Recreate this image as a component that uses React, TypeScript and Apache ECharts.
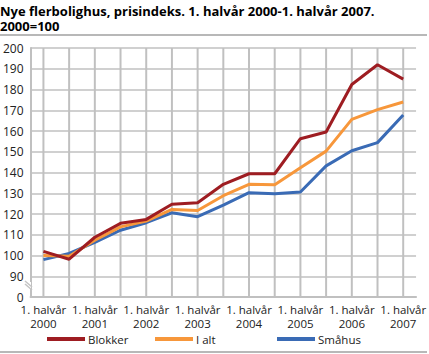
import React, { useEffect, useRef } from "react";
import * as echarts from "echarts";

const categories: string[] = [
  "1. halvår\n2000", "2. halvår\n2000",
  "1. halvår\n2001", "2. halvår\n2001",
  "1. halvår\n2002", "2. halvår\n2002",
  "1. halvår\n2003", "2. halvår\n2003",
  "1. halvår\n2004", "2. halvår\n2004",
  "1. halvår\n2005", "2. halvår\n2005",
  "1. halvår\n2006", "2. halvår\n2006",
  "1. halvår\n2007",
];

const blokker: number[] = [102, 98.2, 108.8, 115.5, 117.4, 124.7, 125.4, 134.3, 139.4, 139.4, 156.3, 159.5, 182.4, 191.9, 185];
const iAlt: number[] = [100, 99.6, 107.4, 113.8, 116.6, 122.2, 121.7, 128.8, 134.3, 134.1, 142.3, 150.3, 165.6, 170.3, 174];
const smahus: number[] = [98, 101, 106.3, 112.2, 115.8, 120.6, 118.7, 124.3, 130.3, 129.8, 130.6, 143.2, 150.5, 154.4, 167.7];

const seriesNames = ["Blokker", "I alt", "Småhus"];
const colors = ["#9e1d22", "#f7973b", "#3a6bb5"];

const FONT = "'Open Sans', 'DejaVu Sans', sans-serif";
const GRID = "#d0d0d0";
const VGRID = "#c0c0c0";

export default function App() {
  const ref = useRef<HTMLDivElement>(null);
  useEffect(() => {
    if (!ref.current) return;
    const chart = echarts.init(ref.current, null, { renderer: "svg" });
    const legendLefts = [47, 155, 277];
    chart.setOption({
      animation: false,
      title: {
        text: "Nye flerbolighus, prisindeks. 1. halvår 2000-1. halvår 2007.\n2000=100",
        left: 0,
        top: 3,
        padding: 0,
        textStyle: {
          fontFamily: FONT,
          fontSize: 13,
          fontWeight: "bold",
          color: "#000",
          lineHeight: 15,
        },
      },
      legend: seriesNames.map((n, i) => ({
        data: [n],
        left: legendLefts[i],
        top: 333,
        padding: 0,
        icon: "rect",
        itemWidth: 38,
        itemHeight: 4,
        itemGap: 0,
        textStyle: { fontFamily: FONT, fontSize: 11.5, color: "#222", padding: [0, 0, 0, -2] },
      })),
      grid: { left: 29, right: 12, top: 48, bottom: 57, containLabel: false },
      xAxis: {
        type: "category",
        data: categories,
        boundaryGap: true,
        axisLine: { show: true, lineStyle: { color: VGRID, width: 2 } },
        axisTick: { show: false },
        axisLabel: {
          interval: 1,
          fontFamily: FONT,
          fontSize: 11.5,
          color: "#222",
          lineHeight: 14,
          margin: 5,
        },
        splitLine: { show: false },
      },
      yAxis: {
        type: "value",
        min: 80,
        max: 200,
        interval: 10,
        axisLine: { show: true, lineStyle: { color: VGRID, width: 2 } },
        axisTick: { show: false },
        axisLabel: {
          fontFamily: FONT,
          fontSize: 12,
          color: "#222",
          margin: 7,
          formatter: (v: number) => (v === 80 ? "0" : String(v)),
        },
        splitLine: { show: true, lineStyle: { color: GRID, width: 2 } },
      },
      series: [
        {
          type: "custom",
          silent: true,
          z: 1,
          data: categories.map((c, i) => [i, 100]),
          encode: { x: 0, y: 1 },
          renderItem: (params: any, api: any) => {
            const cs = params.coordSys;
            const x = api.coord([api.value(0), 100])[0];
            return {
              type: "line",
              shape: { x1: x, y1: cs.y, x2: x, y2: cs.y + cs.height },
              style: { stroke: VGRID, lineWidth: 2 },
            };
          },
        },
        ...[blokker, iAlt, smahus].map((d, i) => ({
          name: seriesNames[i],
          type: "line",
          data: d,
          symbol: "none",
          lineStyle: { width: 3, color: colors[i] },
          itemStyle: { color: colors[i] },
          z: 5 - i,
        })),
      ],
      graphic: [
        {
          type: "line",
          shape: { x1: 0, y1: 35, x2: 427, y2: 35 },
          style: { stroke: "#a0a0a0", lineWidth: 1.5 },
        },
        {
          type: "line",
          shape: { x1: 0, y1: 352, x2: 427, y2: 352 },
          style: { stroke: "#a0a0a0", lineWidth: 1.5 },
        },
        {
          type: "rect",
          z: 50,
          shape: { x: 27, y: 282, width: 4, height: 7 },
          style: { fill: "#fff" },
        },
        {
          type: "line",
          z: 51,
          shape: { x1: 25, y1: 281, x2: 32, y2: 287 },
          style: { stroke: "#c4c4c4", lineWidth: 1.5 },
        },
        {
          type: "line",
          z: 51,
          shape: { x1: 25, y1: 284, x2: 32, y2: 290 },
          style: { stroke: "#c4c4c4", lineWidth: 1.5 },
        },
      ],
    });
    return () => chart.dispose();
  }, []);
  return (
    <div
      ref={ref}
      style={{ position: "fixed", left: 0, top: 0, width: 429, height: 354, background: "#fff" }}
    />
  );
}
